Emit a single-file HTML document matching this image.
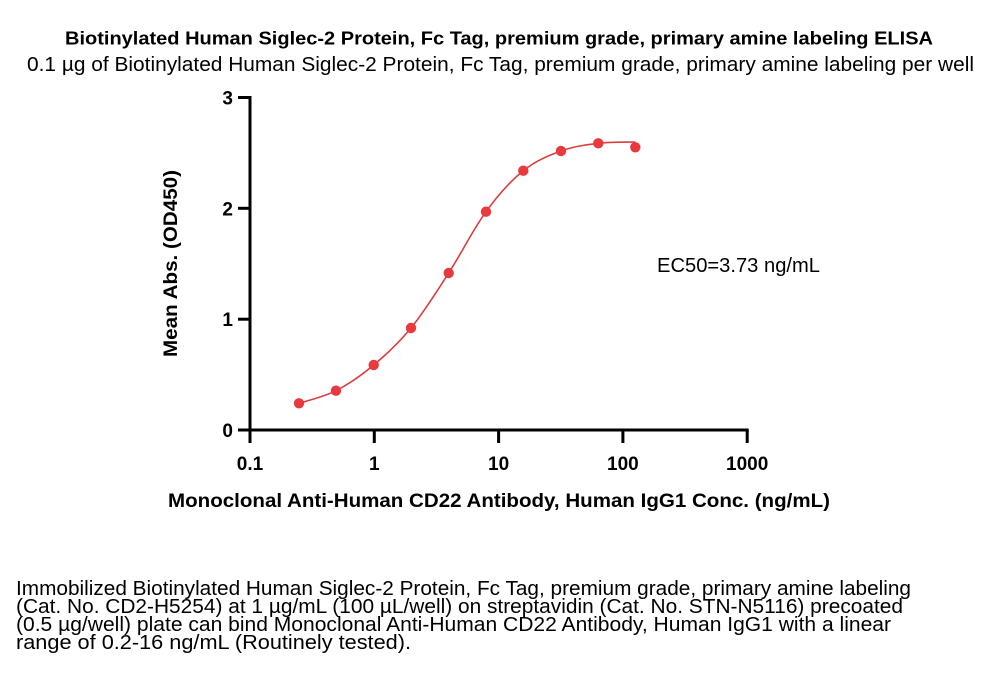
<!DOCTYPE html>
<html>
<head>
<meta charset="utf-8">
<style>
html,body{margin:0;padding:0;background:#fff;}
svg{display:block;}
text{font-family:"Liberation Sans",Arial,sans-serif;fill:#000;}
.b{font-weight:bold;}
</style>
</head>
<body>
<svg width="1000" height="678" viewBox="0 0 1000 678" xmlns="http://www.w3.org/2000/svg">
<rect width="1000" height="678" fill="#fff"/>
<!-- titles -->
<text class="b" x="65" y="44.5" font-size="18.5" textLength="868" lengthAdjust="spacingAndGlyphs">Biotinylated Human Siglec-2 Protein, Fc Tag, premium grade, primary amine labeling ELISA</text>
<text x="27" y="71" font-size="20" textLength="947" lengthAdjust="spacingAndGlyphs">0.1 µg of Biotinylated Human Siglec-2 Protein, Fc Tag, premium grade, primary amine labeling per well</text>

<!-- axes -->
<line x1="250" y1="96" x2="250" y2="431.5" stroke="#000" stroke-width="3"/>
<line x1="248.5" y1="430" x2="748.7" y2="430" stroke="#000" stroke-width="3"/>
<g stroke="#000" stroke-width="3">
<line x1="238" y1="97.5" x2="250" y2="97.5"/>
<line x1="238" y1="208.3" x2="250" y2="208.3"/>
<line x1="238" y1="319.2" x2="250" y2="319.2"/>
<line x1="238" y1="430" x2="250" y2="430"/>
<line x1="250" y1="430" x2="250" y2="443"/>
<line x1="374.3" y1="430" x2="374.3" y2="443"/>
<line x1="498.6" y1="430" x2="498.6" y2="443"/>
<line x1="622.9" y1="430" x2="622.9" y2="443"/>
<line x1="747.2" y1="430" x2="747.2" y2="443"/>
</g>
<g font-size="19" text-anchor="end">
<text class="b" x="233" y="104.5">3</text>
<text class="b" x="233" y="215.3">2</text>
<text class="b" x="233" y="326.2">1</text>
<text class="b" x="233" y="437">0</text>
</g>
<g font-size="19" text-anchor="middle">
<text class="b" x="250" y="470">0.1</text>
<text class="b" x="374.3" y="470">1</text>
<text class="b" x="498.6" y="470">10</text>
<text class="b" x="622.9" y="470">100</text>
<text class="b" x="747.2" y="470">1000</text>
</g>

<!-- axis titles -->
<text class="b" x="168" y="507" font-size="19.5" textLength="662" lengthAdjust="spacingAndGlyphs">Monoclonal Anti-Human CD22 Antibody, Human IgG1 Conc. (ng/mL)</text>
<text class="b" transform="translate(177,357) rotate(-90)" x="0" y="0" font-size="19.5" textLength="187" lengthAdjust="spacingAndGlyphs">Mean Abs. (OD450)</text>

<!-- EC50 -->
<text x="657" y="272" font-size="20" textLength="163" lengthAdjust="spacingAndGlyphs">EC50=3.73 ng/mL</text>

<!-- curve -->
<path d="M299,403.3 C305.2,401.2 323.6,397.1 336,390.7 C348.5,384.3 361.2,375.5 373.7,365 C386.2,354.6 398.5,343.3 411,328 C423.5,312.7 436.2,292.4 448.7,273 C461.2,253.6 473.6,228.75 486,211.7 C498.4,194.65 510.8,180.8 523.3,170.7 C535.8,160.6 548.5,155.6 561,151 C573.5,146.4 585.9,144.8 598.3,143.3 C610.7,141.8 629.1,142.2 635.3,142" fill="none" stroke="#dc3c40" stroke-width="1.6"/>
<g fill="#e8393e">
<circle cx="299" cy="403.3" r="5.2"/>
<circle cx="336" cy="390.7" r="5.2"/>
<circle cx="373.7" cy="365" r="5.2"/>
<circle cx="411" cy="328" r="5.2"/>
<circle cx="448.7" cy="273" r="5.2"/>
<circle cx="486" cy="211.7" r="5.2"/>
<circle cx="523.3" cy="170.7" r="5.2"/>
<circle cx="561" cy="151" r="5.2"/>
<circle cx="598.3" cy="143.3" r="5.2"/>
<circle cx="635.3" cy="147.3" r="5.2"/>
</g>

<!-- caption -->
<g font-size="20">
<text x="16" y="595" textLength="895" lengthAdjust="spacingAndGlyphs">Immobilized Biotinylated Human Siglec-2 Protein, Fc Tag, premium grade, primary amine labeling</text>
<text x="16" y="613" textLength="887" lengthAdjust="spacingAndGlyphs">(Cat. No. CD2-H5254) at 1 µg/mL (100 µL/well) on streptavidin (Cat. No. STN-N5116) precoated</text>
<text x="16" y="631" textLength="875" lengthAdjust="spacingAndGlyphs">(0.5 µg/well) plate can bind Monoclonal Anti-Human CD22 Antibody, Human IgG1 with a linear</text>
<text x="16" y="649" textLength="395" lengthAdjust="spacingAndGlyphs">range of 0.2-16 ng/mL (Routinely tested).</text>
</g>
</svg>
</body>
</html>
